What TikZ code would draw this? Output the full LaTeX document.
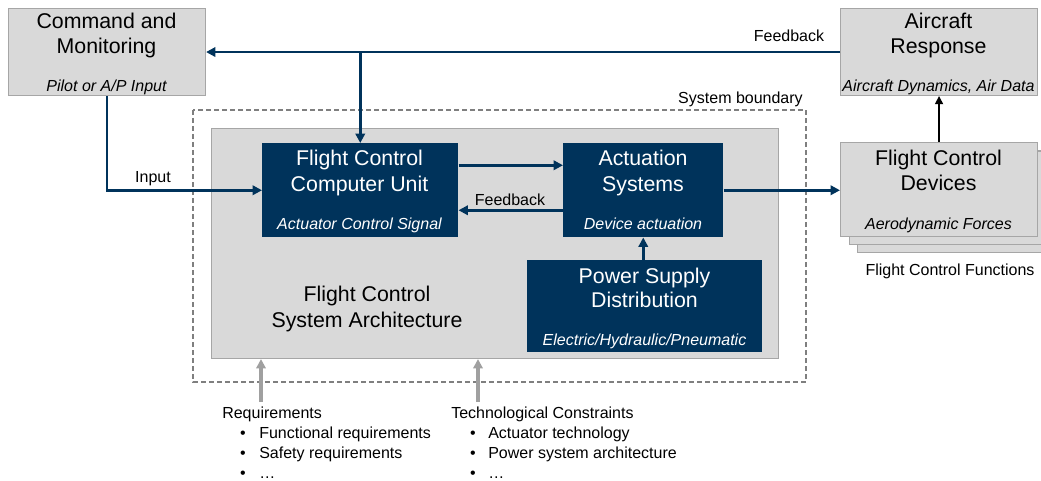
\documentclass[tikz,border=0pt]{standalone}
\usepackage{fontspec}
\setmainfont{Liberation Sans}
\usetikzlibrary{arrows.meta,calc}
\definecolor{navy}{HTML}{00335B}
\definecolor{boxgray}{HTML}{D9D9D9}
\definecolor{edgegray}{HTML}{A6A6A6}
\definecolor{arrgray}{HTML}{A0A0A0}
\definecolor{dashgray}{HTML}{7F7F7F}
\begin{document}
\begin{tikzpicture}[x=0.75pt,y=-0.75pt,
  graybox/.style={draw=edgegray, fill=boxgray, line width=0.8pt, inner sep=0pt, anchor=north west},
  navybox/.style={fill=navy, draw=none, inner sep=0pt, anchor=north west},
  big/.style={font=\fontsize{16}{18.75}\selectfont, anchor=base, inner sep=0pt},
  sub/.style={font=\fontsize{12}{14}\selectfont\itshape, anchor=base, inner sep=0pt},
  lbl/.style={font=\fontsize{12}{14}\selectfont, anchor=base, inner sep=0pt},
  navyarrow/.style={draw=navy, line width=2.1pt, -{Triangle[length=7pt,width=7pt]}},
  blackarrow/.style={draw=black, line width=1.1pt, -{Triangle[length=6pt,width=6pt]}},
  grayarrow/.style={draw=arrgray, line width=2.8pt, -{Triangle[length=7pt,width=7pt]}},
  boundary/.style={draw=dashgray, line width=0.8pt, dash pattern=on 3.5pt off 2.5pt}
]
\useasboundingbox (0,0) rectangle (1041,481);

% system boundary
\draw[boundary] (193,110) rectangle (806,382);
\node[lbl, anchor=base east] (sysb) at (803,103.5) {System boundary};

% outer gray boxes
\node[graybox, minimum width=147.75pt, minimum height=65.25pt] (cmd) at (8,8) {};
\node[big] (cmd1) at (106.5,28.5) {Command and};
\node[big] (cmd2) at (106.5,53.5) {Monitoring};
\node[sub] (cmd3) at (106.5,92) {Pilot or A/P Input};

\node[graybox, minimum width=147.75pt, minimum height=65.25pt] (resp) at (840,8) {};
\node[big] (resp1) at (938.5,28.5) {Aircraft};
\node[big] (resp2) at (938.5,53.5) {Response};
\node[sub] (resp3) at (938.5,92) {Aircraft Dynamics, Air Data};

\begin{scope}
\clip (0,0) rectangle (1041,481);
\node[graybox, minimum width=147.75pt, minimum height=69.75pt] (fcdc) at (857,159) {};
\node[graybox, minimum width=147.75pt, minimum height=69.75pt] (fcdb) at (848.5,150.5) {};
\end{scope}
\node[graybox, minimum width=147.75pt, minimum height=70.5pt] (fcd) at (840,142) {};
\node[big] (fcd1) at (938.5,165.5) {Flight Control};
\node[big] (fcd2) at (938.5,190.5) {Devices};
\node[sub] (fcd3) at (938.5,229) {Aerodynamic Forces};
\node[lbl] (fcf) at (950,275.5) {Flight Control Functions};

% architecture box
\node[graybox, minimum width=425.25pt, minimum height=172.5pt] (arch) at (211,128) {};
\node[big] (arch1) at (367,301.5) {Flight Control};
\node[big] (arch2) at (367,327.5) {System Architecture};

% navy boxes
\node[navybox, minimum width=147pt, minimum height=70.5pt] (fccu) at (262,143) {};
\node[big, text=white] (fccu1) at (359.5,166) {Flight Control};
\node[big, text=white] (fccu2) at (359.5,191) {Computer Unit};
\node[sub, text=white] (fccu3) at (359.5,229) {Actuator Control Signal};

\node[navybox, minimum width=120pt, minimum height=70.5pt] (act) at (563,143) {};
\node[big, text=white] (act1) at (643,166) {Actuation};
\node[big, text=white] (act2) at (643,191) {Systems};
\node[sub, text=white] (act3) at (643,229) {Device actuation};

\node[navybox, minimum width=176.25pt, minimum height=69pt] (psd) at (527,260) {};
\node[big, text=white] (psd1) at (644.5,283) {Power Supply};
\node[big, text=white] (psd2) at (644.5,307) {Distribution};
\node[sub, text=white] (psd3) at (644.5,345) {Electric/Hydraulic/Pneumatic};

% connectors
\draw[navyarrow] (resp.west) -- (cmd.east);
\node[lbl] (fbtop) at (789,41.5) {Feedback};
\coordinate (j) at (fccu.north |- resp.west);
\draw[navyarrow] (j) -- (fccu.north);
\draw[navyarrow] (cmd.south) |- (fccu.west);
\node[lbl] (inp) at (153,182.5) {Input};
\draw[navyarrow] ([yshift=18.75pt]fccu.east) -- ([yshift=18.75pt]act.west);
\draw[navyarrow] ([yshift=-15pt]act.west) -- ([yshift=-15pt]fccu.east);
\node[lbl] (fbmid) at (510,205.5) {Feedback};
\draw[navyarrow] (act.south |- psd.north) -- (act.south);
\draw[navyarrow] (act.east) -- (act.east -| fcd.west);
\draw[blackarrow] (fcd.north -| resp.south) -- (resp.south);

% inputs from below
\coordinate (r1) at (261,402);
\coordinate (r2) at (478,402);
\draw[grayarrow] (r1) -- (r1 |- arch.south);
\draw[grayarrow] (r2) -- (r2 |- arch.south);

\node[lbl, anchor=base west] (req) at (222,418) {Requirements};
\node[lbl] (reqb1) at (243,438) {\textbullet};
\node[lbl, anchor=base west] (req1) at (259,438) {Functional requirements};
\node[lbl] (reqb2) at (243,458) {\textbullet};
\node[lbl, anchor=base west] (req2) at (259,458) {Safety requirements};
\node[lbl] (reqb3) at (243,478) {\textbullet};
\node[lbl, anchor=base west] (req3) at (259,478) {…};

\node[lbl, anchor=base west] (tec) at (451,418) {Technological Constraints};
\node[lbl] (tecb1) at (473,438) {\textbullet};
\node[lbl, anchor=base west] (tec1) at (488,438) {Actuator technology};
\node[lbl] (tecb2) at (473,458) {\textbullet};
\node[lbl, anchor=base west] (tec2) at (488,458) {Power system architecture};
\node[lbl] (tecb3) at (473,478) {\textbullet};
\node[lbl, anchor=base west] (tec3) at (488,478) {…};
\end{tikzpicture}
\end{document}
